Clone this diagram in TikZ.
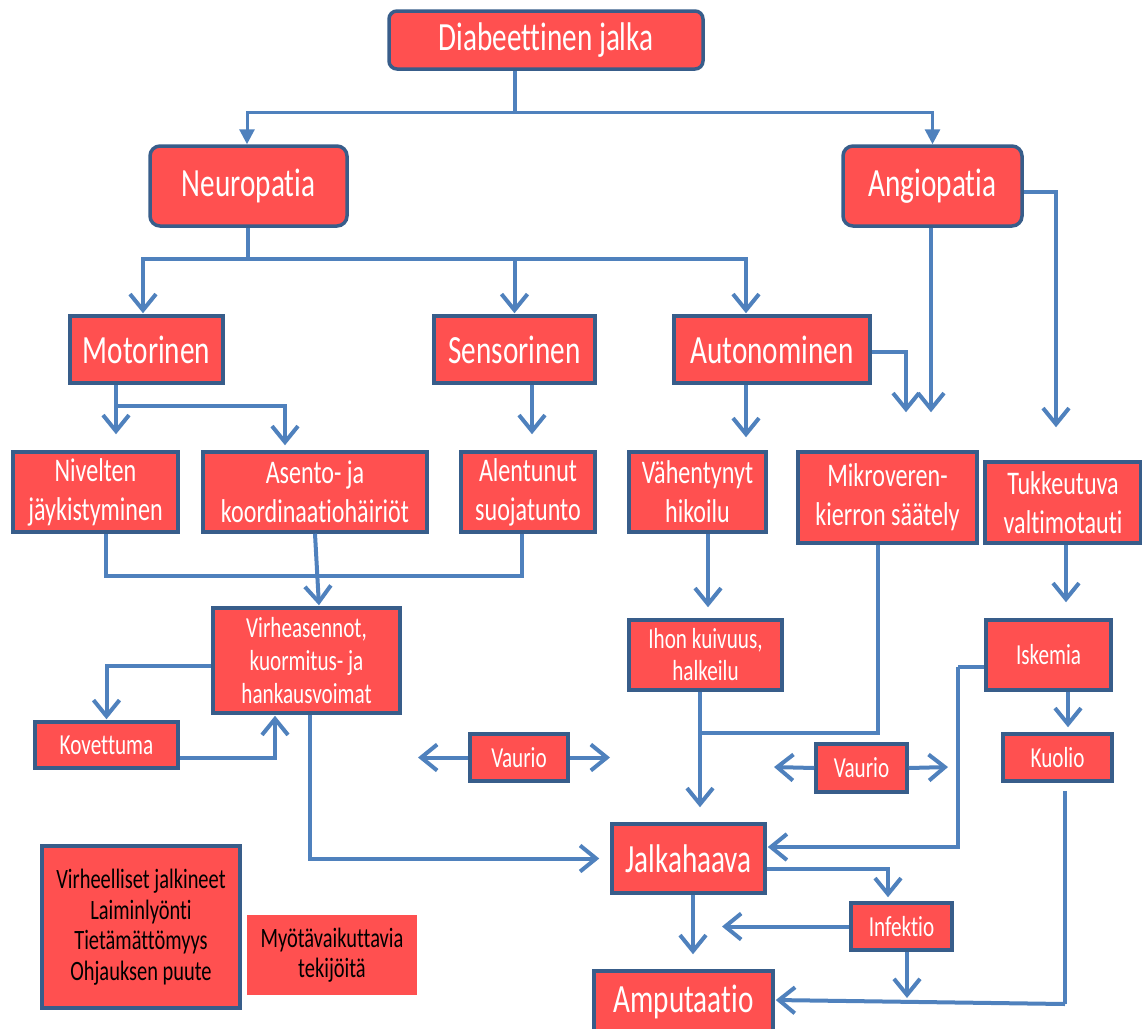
\documentclass[tikz,border=0pt]{standalone}
\usepackage{fontspec}
\setmainfont{Carlito}[FakeStretch=0.73,Ligatures=NoCommon]
\usetikzlibrary{arrows.meta}
\definecolor{boxred}{RGB}{255,80,80}
\definecolor{edgeblue}{RGB}{56,93,138}
\definecolor{linkblue}{RGB}{79,129,189}

\begin{document}
\begin{tikzpicture}[x=1pt,y=-1pt,
    box/.style={rectangle,draw=edgeblue,line width=3.5pt,fill=boxred,text=white,inner sep=0pt,align=center},
    big/.style={font=\fontsize{40}{44}\selectfont},
    mid/.style={font=\fontsize{33}{39}\selectfont},
    small/.style={font=\fontsize{29}{33}\selectfont},
    note/.style={font=\fontsize{28}{30.5}\selectfont,text=black},
    conn/.style={draw=linkblue,line width=4pt},
    arr/.style={conn,-{Straight Barb[length=16pt,width=26pt]},shorten >=1pt},
    toparr/.style={draw=linkblue,line width=3pt,-{Triangle[length=15pt,width=15pt]}}]

        \useasboundingbox (0,0) rectangle (1142,1028);

        % Top level
        \node[box,big,rounded corners=8pt,minimum width=314pt,minimum height=58pt] (diab) at (546,40) {Diabeettinen jalka};
        \node[box,big,rounded corners=10pt,minimum width=197pt,minimum height=80pt] (neuro) at (248.5,186) {Neuropatia};
        \node[box,big,rounded corners=10pt,minimum width=179pt,minimum height=80pt] (angio) at (932.5,186) {Angiopatia};

        % Neuropathy types
        \node[box,big,minimum width=153pt,minimum height=67pt] (motor) at (146.5,349.5) {Motorinen};
        \node[box,big,minimum width=161pt,minimum height=67pt] (senso) at (514.5,349.5) {Sensorinen};
        \node[box,big,minimum width=196pt,minimum height=67pt] (auto) at (772,349.5) {Autonominen};

        % Consequences
        \node[box,mid,minimum width=165pt,minimum height=80pt] (nivel) at (95.5,492) {Nivelten\\jäykistyminen};
        \node[box,mid,minimum width=224pt,minimum height=80pt] (asento) at (315,492) {Asento- ja\\koordinaatiohäiriöt};
        \node[box,mid,minimum width=134pt,minimum height=80pt] (alent) at (528,492) {Alentunut\\suojatunto};
        \node[box,mid,minimum width=137pt,minimum height=80pt] (vahen) at (697.5,492) {Vähentynyt\\hikoilu};
        \node[box,mid,minimum width=179pt,minimum height=91pt] (mikro) at (887.5,497.5) {Mikroveren-\\kierron säätely};
        \node[box,mid,minimum width=156pt,minimum height=81pt] (tukke) at (1063,502.5) {Tukkeutuva\\valtimotauti};

        \node[box,small,minimum width=187pt,minimum height=105pt] (virhe) at (306.5,660.5) {Virheasennot,\\kuormitus- ja\\hankausvoimat};
        \node[box,small,minimum width=143pt,minimum height=46pt] (kovet) at (106.5,745) {Kovettuma};
        \node[box,small,font=\fontsize{29}{32}\selectfont,minimum width=153pt,minimum height=70pt] (ihon) at (705.5,655) {Ihon kuivuus,\\halkeilu};
        \node[box,small,minimum width=125pt,minimum height=70pt] (iskem) at (1048.5,655) {Iskemia};
        \node[box,small,minimum width=98pt,minimum height=47pt] (vaur1) at (519,757.5) {Vaurio};
        \node[box,small,minimum width=91pt,minimum height=48pt] (vaur2) at (861.5,768) {Vaurio};
        \node[box,small,minimum width=109pt,minimum height=47pt] (kuoli) at (1057.5,757.5) {Kuolio};

        % Outcomes
        \node[box,big,minimum width=153pt,minimum height=69pt] (jalka) at (688.5,858.5) {Jalkahaava};
        \node[box,small,minimum width=101pt,minimum height=47pt] (infek) at (901.5,926.5) {Infektio};
        \node[box,big,minimum width=179pt,minimum height=61pt] (amput) at (683.5,1001.5) {Amputaatio};

        % Contributing factors
        \node[box,note,minimum width=198pt,minimum height=162pt] (tekij) at (141,927) {Virheelliset jalkineet\\Laiminlyönti\\Tietämättömyys\\Ohjauksen puute};
        \node[fill=boxred,note,align=center,inner sep=0pt,minimum width=170pt,minimum height=80pt] (myota) at (332,955) {Myötävaikuttavia\\tekijöitä};

        % Junctions and free ends
        \coordinate (d1) at (515,112);
        \coordinate (n1) at (248,259);
        \coordinate (m1) at (116,406);
        \coordinate (v1) at (106,576);
        \coordinate (v2) at (522,576);
        \coordinate (i1) at (700,733);
        \coordinate (k1) at (958,667);
        \coordinate (q1) at (1065,1004);
        \coordinate (w1) at (417,757.5);
        \coordinate (w2) at (611,757.5);
        \coordinate (w3) at (773,767);
        \coordinate (w4) at (949,767);
        \coordinate (f2) at (721,926.5);
        \coordinate (f3) at (907,999);

        % Diabeettinen jalka
        \draw[conn] (d1 |- diab.south) -- (d1);
        \draw[toparr] (d1) -| ([xshift=-1.5pt]neuro.north);
        \draw[toparr] (d1) -| (angio.north);

        % Neuropatia
        \draw[conn] (n1 |- neuro.south) -- (n1);
        \draw[arr] (n1) -| ([xshift=-3.5pt]motor.north);
        \draw[arr] (n1) -| (senso.north);
        \draw[arr] (n1) -| ([xshift=-26pt]auto.north);

        % Motorinen, Sensorinen, Autonominen
        \draw[conn] (m1 |- motor.south) -- (m1);
        \draw[arr] (m1) -- ([xshift=20.5pt,yshift=15pt]nivel.north);
        \draw[arr] (m1) -| ([xshift=-30pt,yshift=4pt]asento.north);
        \draw[arr] ([xshift=17.5pt]senso.south) -- ([xshift=4pt,yshift=15pt]alent.north);
        \draw[arr] ([xshift=-26pt]auto.south) -- ([xshift=48.5pt,yshift=12pt]vahen.north);
        \draw[arr] ([yshift=-2.5pt]auto.east) -| ([xshift=18.5pt,yshift=37pt]mikro.north);

        % Angiopatia
        \draw[arr] ([xshift=-1.5pt]angio.south) -- ([xshift=43.5pt,yshift=37pt]mikro.north);
        \draw[arr] ([yshift=-6pt]angio.east) -| ([xshift=-7pt,yshift=32pt]tukke.north);

        % Virheasennot
        \draw[conn] ([xshift=10.5pt]nivel.south) -- (v1) -- (v2) -- ([xshift=-6pt]alent.south);
        \draw[arr] (asento.south) -- ([xshift=12.5pt]virhe.north);
        \draw[arr] ([yshift=-5.5pt]virhe.west) -| (kovet.north);
        \draw[arr] ([yshift=-13pt]kovet.east) -| ([xshift=-31.5pt]virhe.south);
        \draw[arr] ([xshift=3.5pt]virhe.south) |- ([xshift=-10pt]jalka.west);

        % Vaurio
        \draw[arr] (vaur1.west) -- (w1);
        \draw[arr] (vaur1.east) -- (w2);
        \draw[arr] (vaur2.west) -- (w3);
        \draw[arr] (vaur2.east) -- (w4);

        % Autonomic branch
        \draw[arr] ([xshift=10.5pt]vahen.south) -- ([xshift=2.5pt,yshift=10pt]ihon.north);
        \draw[arr] ([xshift=-5.5pt]ihon.south) -- ([xshift=11.5pt,yshift=14pt]jalka.north);
        \draw[conn] ([xshift=-9.5pt]mikro.south) |- (i1);

        % Ischemic branch
        \draw[arr] ([xshift=3pt]tukke.south) -- ([xshift=17.5pt,yshift=15pt]iskem.north);
        \draw[conn] ([yshift=-12pt]iskem.west) -- (k1);
        \draw[arr] (k1) |- ([yshift=11.5pt]jalka.east);
        \draw[arr] ([xshift=19.5pt]iskem.south) -- ([xshift=10.5pt,yshift=4pt]kuoli.north);
        \draw[conn] ([xshift=7.5pt,yshift=-8pt]kuoli.south) -- (q1);
        \draw[arr] (q1) -- ([yshift=1.5pt]amput.east);

        % Jalkahaava
        \draw[arr] ([yshift=-10.5pt]jalka.east) -| ([xshift=-13.5pt,yshift=3pt]infek.north);
        \draw[arr] (infek.west) -- (f2);
        \draw[arr] ([xshift=5.5pt]infek.south) -- (f3);
        \draw[arr] ([xshift=4.5pt]jalka.south) -- ([xshift=9.5pt,yshift=14pt]amput.north);

\end{tikzpicture}
\end{document}
